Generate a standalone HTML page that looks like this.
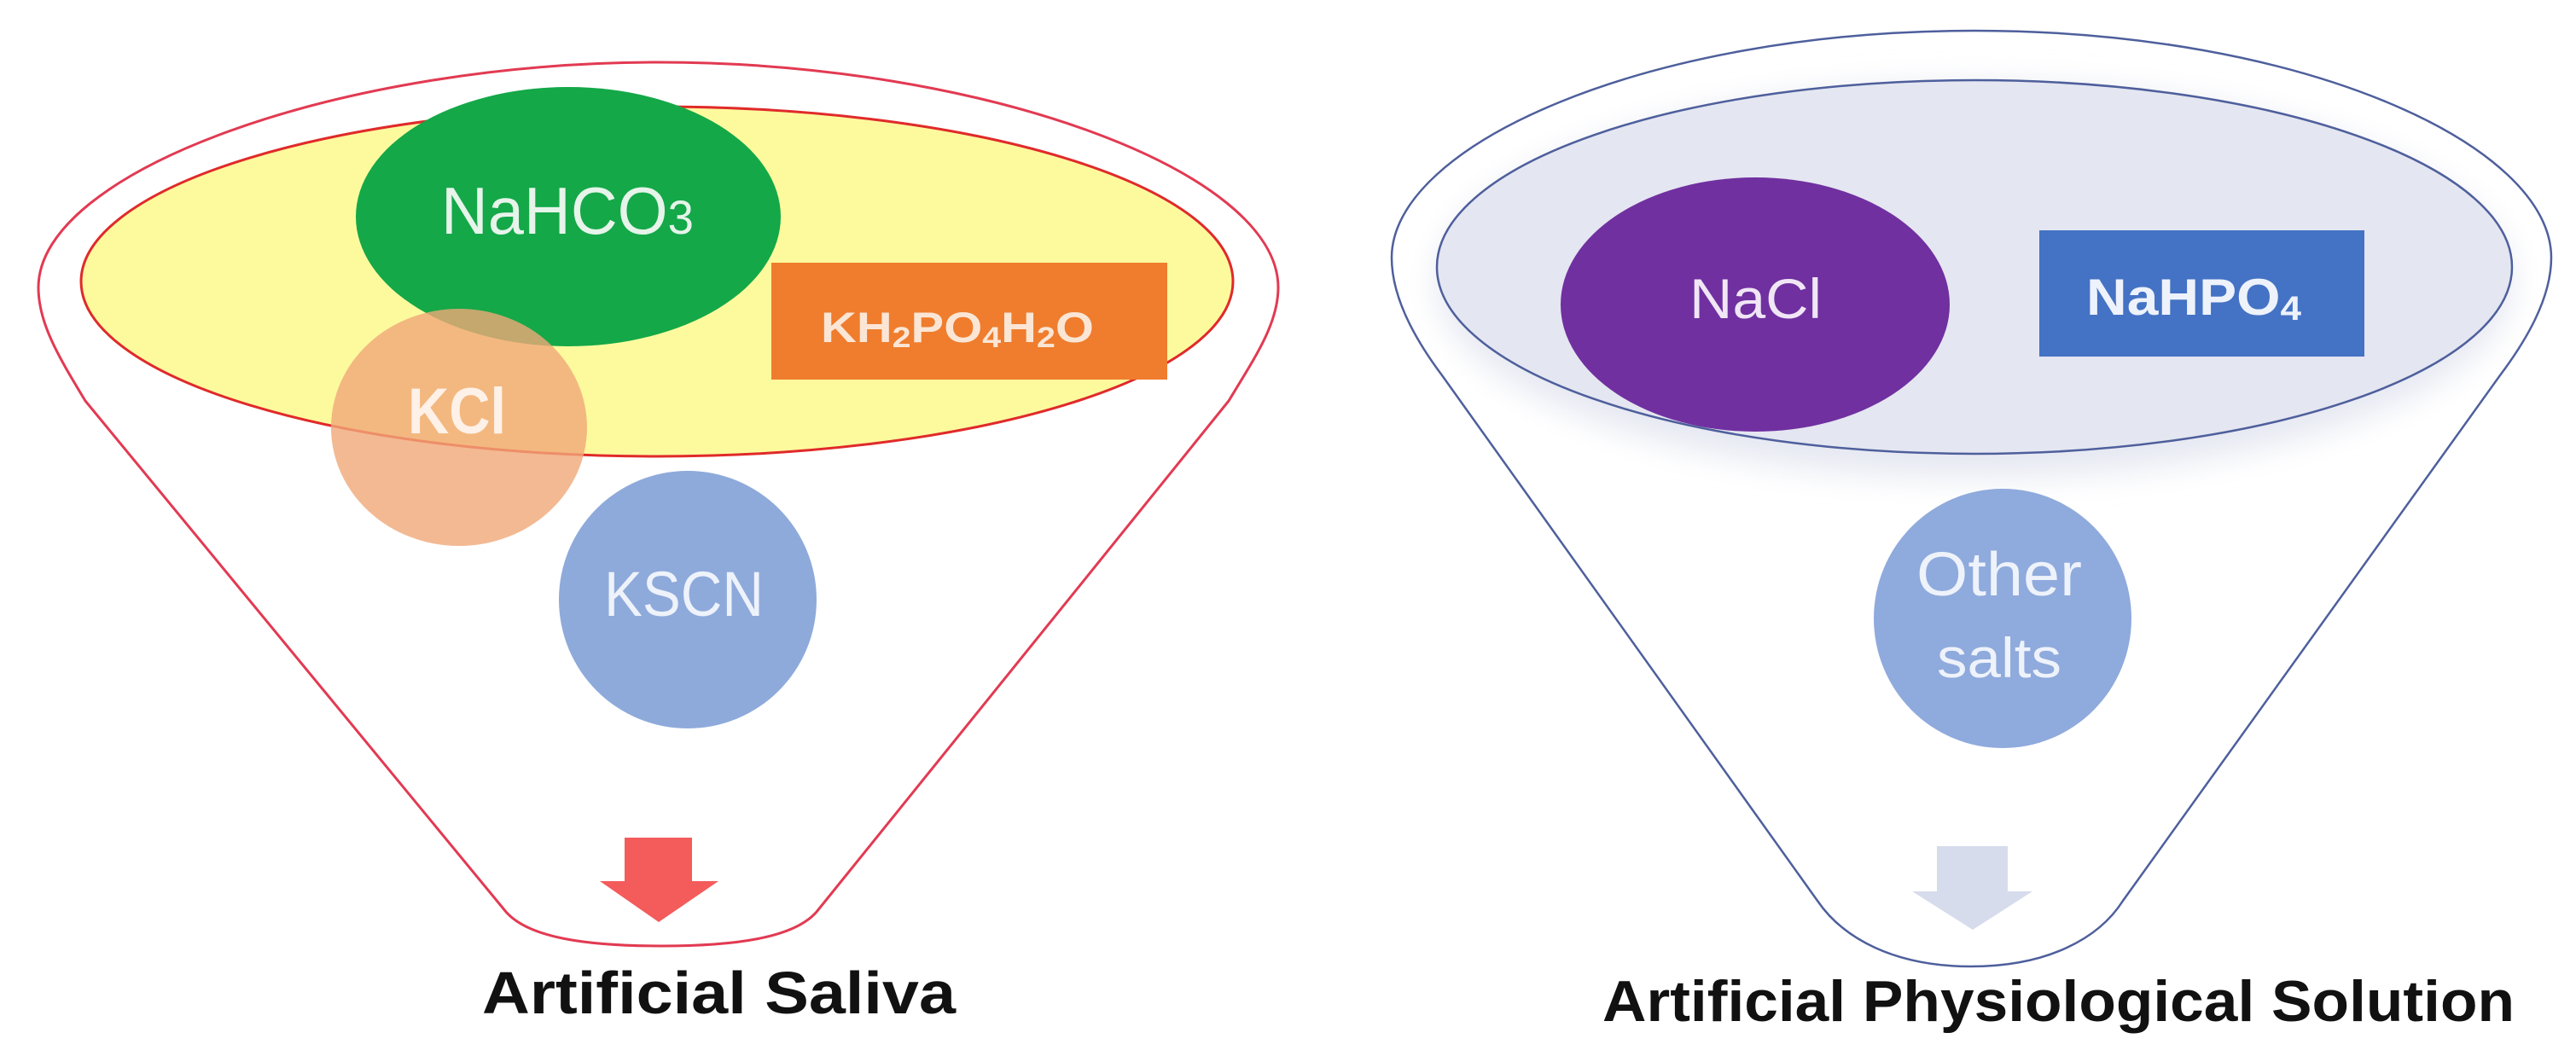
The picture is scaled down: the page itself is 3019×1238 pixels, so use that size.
<!DOCTYPE html>
<html><head><meta charset="utf-8"><style>
html,body{margin:0;padding:0;background:#fff;}
svg{display:block;}
text{font-family:"Liberation Sans",sans-serif;}
</style></head><body>
<svg width="3019" height="1238" viewBox="0 0 3019 1238" xmlns="http://www.w3.org/2000/svg">
<defs>
<filter id="blur" x="-10%" y="-20%" width="120%" height="140%"><feGaussianBlur stdDeviation="18"/></filter>
</defs>
<!-- LEFT FUNNEL -->
<path d="M772,73 C1150,73 1498,200 1498,337 C1498,380 1470,420 1440,470 L957,1069 C930,1100 860,1109 775,1109 C690,1109 620,1100 593,1069 L100,470 C70,420 45,380 45,337 C45,200 400,73 772,73 Z" fill="#fff" stroke="#e23a52" stroke-width="3"/>
<ellipse cx="770" cy="330" rx="675" ry="205" fill="#fdfa9e" stroke="#e02a2a" stroke-width="3"/>
<ellipse cx="666" cy="254" rx="249" ry="152" fill="#14a848"/>
<rect x="904" y="308" width="464" height="137" fill="#ef7d2d"/>
<ellipse cx="538" cy="501" rx="150" ry="139" fill="#f0a878" fill-opacity="0.8"/>
<ellipse cx="806" cy="703" rx="151" ry="151" fill="#8eaadb"/>
<polygon points="732,982 811,982 811,1033 842,1033 772,1081 703,1033 732,1033" fill="#f45b5b"/>
<text x="517" y="274" font-size="78" fill="#e6f4ea" textLength="296" lengthAdjust="spacingAndGlyphs">NaHCO<tspan font-size="56">3</tspan></text>
<text x="962" y="401" font-size="50" font-weight="bold" fill="#fbe6d6" textLength="320" lengthAdjust="spacingAndGlyphs">KH<tspan font-size="34" dy="6">2</tspan><tspan dy="-6">PO</tspan><tspan font-size="34" dy="6">4</tspan><tspan dy="-6">H</tspan><tspan font-size="34" dy="6">2</tspan><tspan dy="-6">O</tspan></text>
<text x="478" y="508" font-size="76" font-weight="bold" fill="#fdf1e8" textLength="115" lengthAdjust="spacingAndGlyphs">KCl</text>
<text x="708" y="722" font-size="74" fill="#eef2fa" textLength="187" lengthAdjust="spacingAndGlyphs">KSCN</text>
<text x="565" y="1188" font-size="70" font-weight="bold" fill="#111" textLength="555" lengthAdjust="spacingAndGlyphs">Artificial Saliva</text>

<!-- RIGHT FUNNEL -->
<path d="M2314,36 C2700,36 2990,170 2990,302 C2990,350 2960,400 2930,440 L2488,1056 C2460,1100 2400,1133 2310,1133 C2220,1133 2160,1100 2130,1056 L1690,440 C1660,400 1631,350 1631,302 C1631,170 1930,36 2314,36 Z" fill="#fff" stroke="#4e5f9c" stroke-width="2.5"/>
<ellipse cx="2314" cy="330" rx="630" ry="230" fill="#e6e8f2" filter="url(#blur)"/>
<ellipse cx="2314" cy="313" rx="630" ry="219" fill="#e4e6f1" stroke="#4e5f9c" stroke-width="2.5"/>
<ellipse cx="2057" cy="357" rx="228" ry="149" fill="#7030a0"/>
<rect x="2390" y="270" width="381" height="148" fill="#4472c4"/>
<ellipse cx="2347" cy="725" rx="151" ry="152" fill="#8faadc"/>
<polygon points="2270,992 2353,992 2353,1045 2382,1045 2312,1090 2241,1045 2270,1045" fill="#d6dcec"/>
<text x="1980" y="373" font-size="66" fill="#f0e6f6" textLength="155" lengthAdjust="spacingAndGlyphs">NaCl</text>
<text x="2445" y="369" font-size="60" font-weight="bold" fill="#eef2fb" textLength="252" lengthAdjust="spacingAndGlyphs">NaHPO<tspan font-size="40" dy="6">4</tspan></text>
<text x="2246" y="698" font-size="72" fill="#eef2fa" textLength="194" lengthAdjust="spacingAndGlyphs">Other</text>
<text x="2270" y="794" font-size="66" fill="#eef2fa" textLength="146" lengthAdjust="spacingAndGlyphs">salts</text>
<text x="1878" y="1197" font-size="68" font-weight="bold" fill="#111" textLength="1069" lengthAdjust="spacingAndGlyphs">Artificial Physiological Solution</text>
</svg>
</body></html>
